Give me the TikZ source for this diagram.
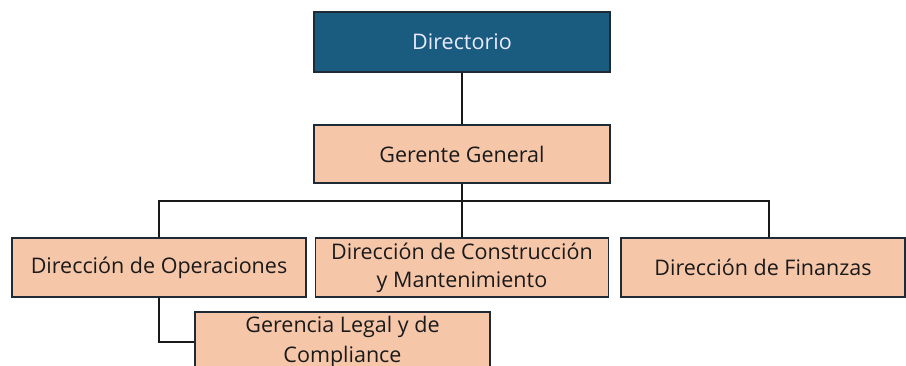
\documentclass[tikz,border=0pt]{standalone}
\usepackage{fontspec}
\setmainfont{Open Sans}
\definecolor{dirblue}{HTML}{1A5C80}
\definecolor{peach}{HTML}{F6C6A8}
\definecolor{edge}{HTML}{1E2A36}
\definecolor{txt}{HTML}{1A1A1A}
\begin{document}
\begin{tikzpicture}[x=1pt,y=-1pt,
  box/.style={draw=edge,line width=1.5pt,fill=peach,text=txt,align=center,inner sep=0pt,
    font=\fontsize{21.5}{28}\selectfont},
  topbox/.style={box,fill=dirblue,text=white!92!blue},
  link/.style={draw=black!90,line width=2pt}]
\useasboundingbox (0,0) rectangle (906,366);
\fill[white] (0,0) rectangle (906,366);
\node[topbox,minimum width=296pt,minimum height=60pt] (dir) at (462,42) {Directorio};
\node[box,minimum width=296pt,minimum height=58pt] (gg) at (462,154) {Gerente General};
\node[box,minimum width=294pt,minimum height=59pt] (ops) at (159,267.5) {Dirección de Operaciones};
\node[box,minimum width=293pt,minimum height=59pt] (con) at (462,267.5) {Dirección de Construcción\\y Mantenimiento};
\node[box,minimum width=284pt,minimum height=59pt] (fin) at (763,267.5) {Dirección de Finanzas};
\node[box,minimum width=295pt,minimum height=60pt,font=\fontsize{21.5}{30}\selectfont] (gl) at (342.5,342) {Gerencia Legal y de\\Compliance};
\coordinate (bar) at (0,201);
\draw[link] (dir.south) -- (gg.north);
\draw[link] (gg.south) -- (gg.south |- bar);
\draw[link] (ops.north) -- (ops.north |- bar) -- ([xshift=6pt]fin.north |- bar) -- ([xshift=6pt]fin.north);
\draw[link] (gg.south |- bar) -- (con.north);
\draw[link] (ops.south) |- (gl.west);
\end{tikzpicture}
\end{document}
